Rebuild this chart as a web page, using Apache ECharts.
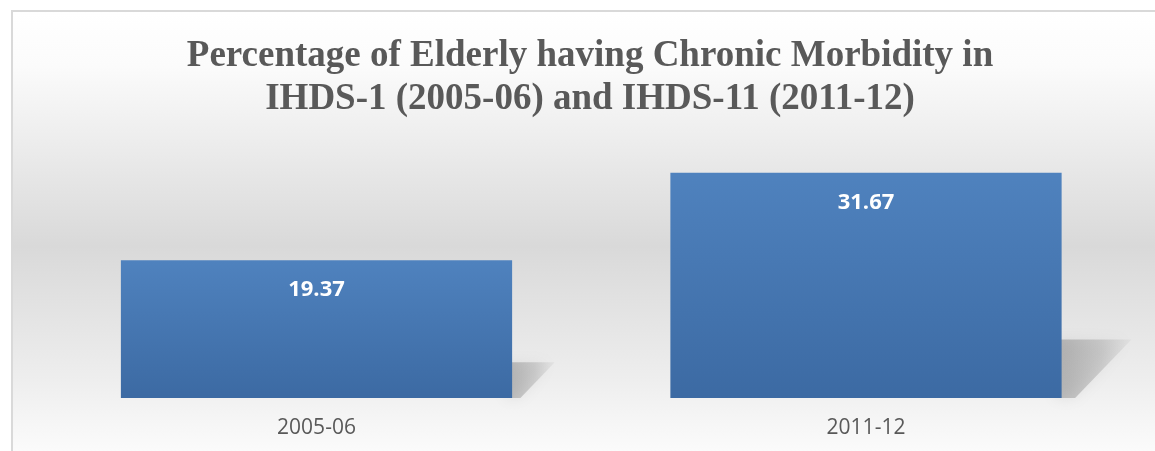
<!DOCTYPE html>
<html>
<head>
<meta charset="utf-8">
<script src="https://cdn.jsdelivr.net/npm/echarts@6/dist/echarts.min.js"></script>
<style>
html, body { margin: 0; padding: 0; background: #fff; overflow: hidden; }
.chart-box {
  position: absolute;
  left: 11px;
  top: 10px;
  border-left: 2px solid #d9d9d9;
  border-top: 2px solid #d9d9d9;
}
#chartMorbidity { width: 1154px; height: 450px; }
</style>
</head>
<body>
<div class="chart-box">
  <div id="chartMorbidity"></div>
</div>
<script>
// data
var titleLines = ['Percentage of Elderly having Chronic Morbidity in', 'IHDS-1 (2005-06) and IHDS-11 (2011-12)'];
var categories = ['2005-06', '2011-12'];
var values = [19.37, 31.67];
var yMax = 35;

var barRatio = 0.712;

// excel-like perspective shadow to the right of each bar
function renderShadow(params, api) {
  var idx = api.value(0);
  var val = api.value(1);
  var base = api.coord([idx, 0]);
  var top = api.coord([idx, val]);
  var halfW = api.size([1, 0])[0] * barRatio / 2;
  var xr = base[0] + halfW;
  var h = base[1] - top[1];
  var sy = base[1] - 0.26 * h;
  return {
    type: 'polygon',
    shape: {
      points: [
        [xr - 6, base[1]],
        [xr - 6, sy],
        [xr + 0.31 * h, sy],
        [xr + 0.06 * h, base[1]]
      ]
    },
    style: {
      fill: {
        type: 'linear', x: 0, y: 0, x2: 1, y2: 0,
        colorStops: [
          { offset: 0, color: 'rgba(100,100,100,0.38)' },
          { offset: 0.6, color: 'rgba(100,100,100,0.22)' },
          { offset: 1, color: 'rgba(100,100,100,0.05)' }
        ]
      },
      shadowBlur: 14,
      shadowColor: 'rgba(100,100,100,0.35)'
    }
  };
}

var chart_option = {
  backgroundColor: {
    type: 'linear', x: 0, y: 0, x2: 0, y2: 1,
    colorStops: [
      { offset: 0, color: '#ffffff' },
      { offset: 0.12, color: '#fbfbfb' },
      { offset: 0.52, color: '#d9d9d9' },
      { offset: 0.82, color: '#eeeeee' },
      { offset: 1, color: '#fdfdfd' }
    ]
  },
  animation: false,
  title: {
    text: titleLines.join('\n'),
    left: 'center',
    top: 23,
    padding: 0,
    textStyle: {
      fontFamily: 'Liberation Serif',
      fontWeight: 'bold',
      fontSize: 37,
      lineHeight: 43,
      color: '#595959'
    }
  },
  grid: {
    left: 28.75,
    right: 26.25,
    top: 137,
    bottom: 64
  },
  xAxis: {
    type: 'category',
    data: categories,
    axisLine: { show: false },
    axisTick: { show: false },
    axisLabel: {
      margin: 20,
      fontFamily: 'Open Sans',
      fontSize: 21,
      color: '#595959'
    }
  },
  yAxis: {
    type: 'value',
    min: 0,
    max: yMax,
    show: false,
    splitLine: { show: false }
  },
  series: [
    {
      type: 'custom',
      renderItem: renderShadow,
      data: values.map(function (v, i) { return [i, v]; }),
      z: 1,
      silent: true
    },
    {
      name: 'Chronic Morbidity',
      type: 'bar',
      data: values,
      barWidth: (barRatio * 100) + '%',
      z: 2,
      itemStyle: {
        color: {
          type: 'linear', x: 0, y: 0, x2: 0, y2: 1,
          colorStops: [
            { offset: 0, color: '#4f82be' },
            { offset: 1, color: '#3c6aa3' }
          ]
        }
      },
      label: {
        show: true,
        position: 'insideTop',
        distance: 19,
        fontFamily: 'Open Sans',
        fontWeight: 'bold',
        fontSize: 22,
        color: '#ffffff'
      }
    }
  ]
};

var chartMorbidity = echarts.init(document.getElementById('chartMorbidity'));
chartMorbidity.setOption(chart_option);
</script>
</body>
</html>
